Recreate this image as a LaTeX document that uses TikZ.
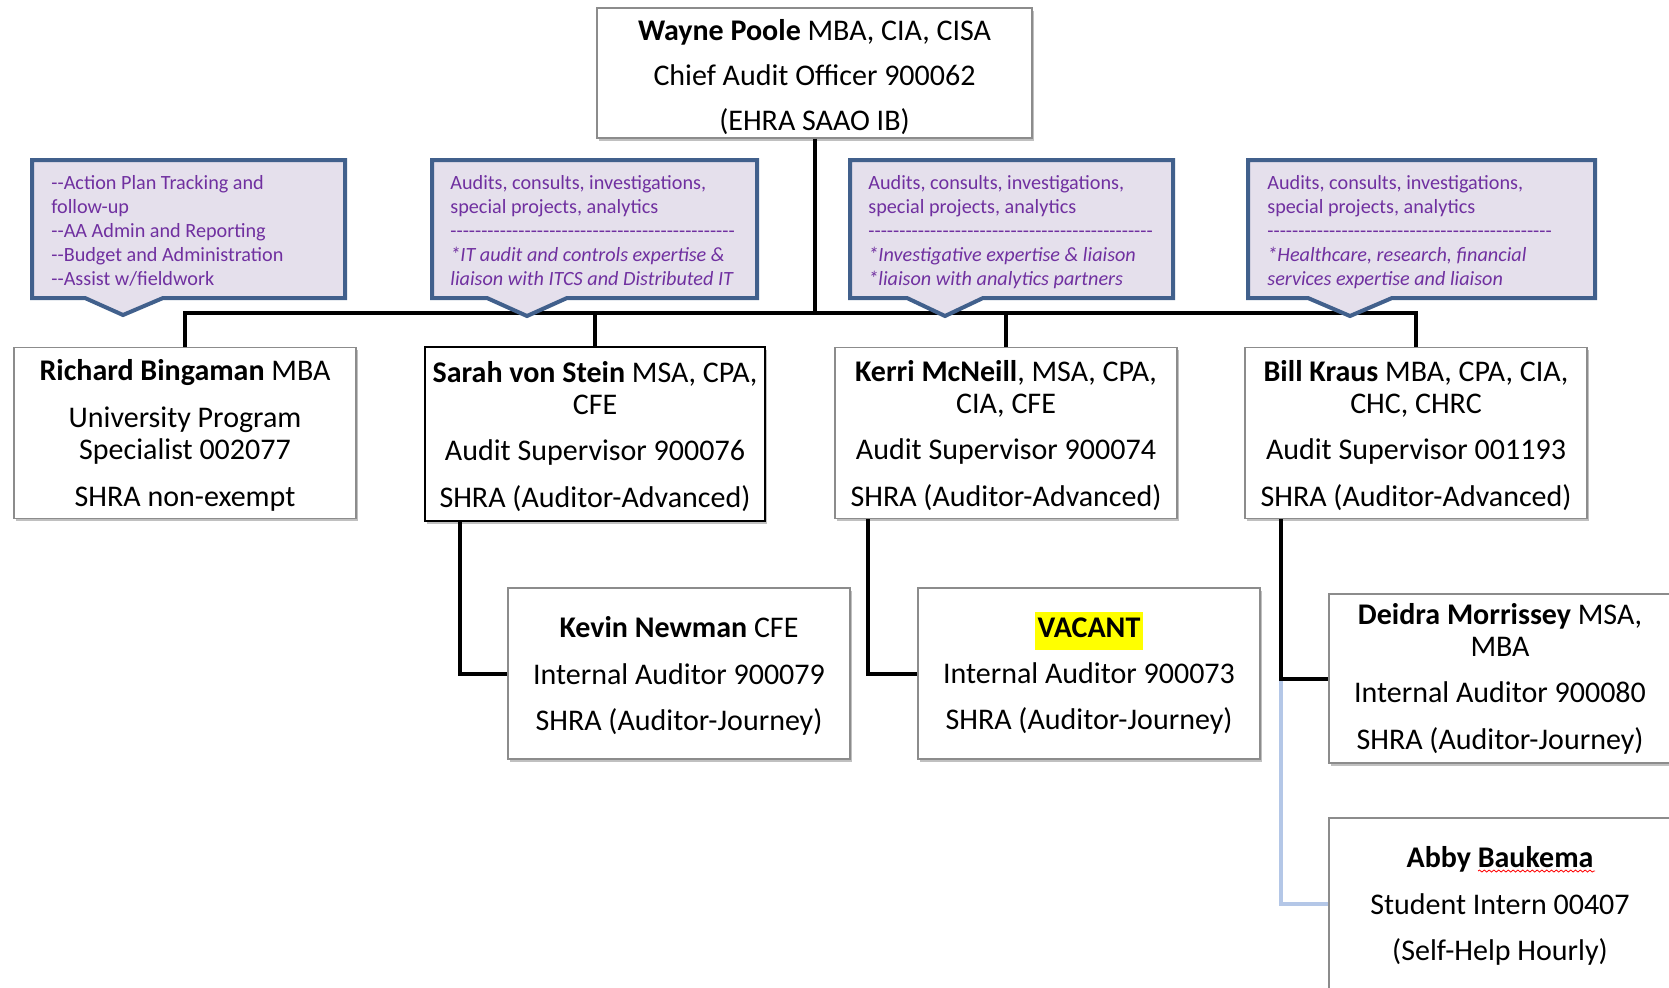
\documentclass[tikz,border=0pt]{standalone}
\usepackage{fontspec}
\setmainfont{Carlito}
\newfontfamily\callfont{Carlito}[Ligatures=TeXOff]
\usetikzlibrary{shadows,decorations.pathmorphing}
\definecolor{callborder}{HTML}{41608C}
\definecolor{callfill}{HTML}{E5E0EC}
\definecolor{calltextcol}{HTML}{7030A0}
\definecolor{boxborder}{HTML}{8C8C8C}
\definecolor{paleblue}{HTML}{B4C7E7}
\definecolor{hilite}{HTML}{FFFF00}
\tikzset{
  person/.style={draw=boxborder, line width=0.6pt, fill=white,
    minimum width=171pt, minimum height=85.5pt, align=center, inner sep=0pt,
    font=\fontsize{15}{16}\selectfont,
    drop shadow={shadow xshift=1.1pt, shadow yshift=-1.3pt, opacity=0.35, fill=black!70}},
  conn/.style={line width=2pt, black},
  paleconn/.style={line width=2pt, paleblue},
  callout/.style={draw=callborder, fill=callfill, line width=2pt, line join=miter},
  calltext/.style={anchor=north west, inner sep=0pt, align=left, text=calltextcol,
    font=\callfont\fontsize{10.1}{12}\selectfont},
  wavy/.style={red, line width=0.4pt, decorate, decoration={snake, amplitude=0.5pt, segment length=2.4pt}}
}
\newcommand{\pgap}{\\[7.3pt]}
\newcommand{\toppush}{\rule{0pt}{13pt}}
\newcommand{\dashrow}{----------------------------------------------}
\begin{document}
\begin{tikzpicture}[x=0.5pt,y=-0.5pt]
\useasboundingbox (0,0) rectangle (1669,987);
\clip (0,0) rectangle (1669,987);
\fill[white] (0,0) rectangle (1669,987);

\coordinate (barL) at (186,313);

% ---------- people ----------
\node[person, minimum width=217.5pt, minimum height=65pt] (wayne) at (814.5,73)
  {\rule{0pt}{14.5pt}\textbf{Wayne Poole} MBA, CIA, CISA\\[6.5pt]Chief Audit Officer 900062\\[6.5pt](EHRA SAAO IB)};

\node[person] (richard) at (185,433)
  {\toppush\textbf{Richard Bingaman} MBA\pgap University Program\\Specialist 002077\pgap SHRA non-exempt};
\node[person, draw=black, line width=1pt, minimum width=170pt, minimum height=87pt] (sarah) at (595,434)
  {\toppush\textbf{Sarah von Stein} MSA, CPA,\\CFE\pgap Audit Supervisor 900076\pgap SHRA (Auditor-Advanced)};
\node[person] (kerri) at (1006,433)
  {\toppush\textbf{Kerri McNeill}, MSA, CPA,\\CIA, CFE\pgap Audit Supervisor 900074\pgap SHRA (Auditor-Advanced)};
\node[person] (bill) at (1416,433)
  {\toppush\textbf{Bill Kraus} MBA, CPA, CIA,\\CHC, CHRC\pgap Audit Supervisor 001193\pgap SHRA (Auditor-Advanced)};

\node[person] (kevin) at (679,673.5)
  {\toppush\textbf{Kevin Newman} CFE\pgap Internal Auditor 900079\pgap SHRA (Auditor-Journey)};
\node[person] (vacant) at (1089,673.5)
  {{\setlength{\fboxsep}{1.5pt}\colorbox{hilite}{\strut\textbf{VACANT}}}\\[5pt]Internal Auditor 900073\pgap SHRA (Auditor-Journey)};
\node[person, minimum height=84.5pt] (deidra) at (1500,678.5)
  {\textbf{Deidra Morrissey} MSA,\\MBA\pgap Internal Auditor 900080\pgap SHRA (Auditor-Journey)};
\node[person] (abby) at (1500,903.5)
  {\toppush\textbf{Abby Baukema}\pgap Student Intern 00407\pgap (Self-Help Hourly)};
\draw[wavy] (1478,871) -- (1595,871);

% ---------- connectors ----------
\draw[conn] (wayne.south) -- (wayne.south |- barL);
\draw[conn] (richard.north) -- (richard.north |- barL) -| (bill.north);
\draw[conn] (sarah.north) -- (sarah.north |- barL);
\draw[conn] (kerri.north) -- (kerri.north |- barL);

\path (sarah.south west) ++(36,0) coordinate (sstub);
\path (kerri.south west) ++(34,0) coordinate (kstub);
\path (bill.south west) ++(37,0) coordinate (bstub);
\draw[conn] (sstub) |- (kevin.west);
\draw[conn] (kstub) |- (vacant.west);
\draw[paleconn] (deidra.west -| bstub) |- (abby.west);
\draw[conn] (bstub) |- (deidra.west);

% ---------- callouts ----------
\draw[callout] (32,160) -- (345,160) -- (345,298) -- (163,298) -- (123,315) -- (85,298) -- (32,298) -- cycle;
\node[calltext] (c1) at (51,175)
  {--Action Plan Tracking and\\follow-up\\--AA Admin and Reporting\\--Budget and Administration\\--Assist w/fieldwork};

\draw[callout] (432,160) -- (757,160) -- (757,298) -- (567,298) -- (527,316) -- (487,298) -- (432,298) -- cycle;
\node[calltext] (c2) at (450,175)
  {Audits, consults, investigations,\\special projects, analytics\\\dashrow\\\textit{*IT audit and controls expertise \&}\\\textit{liaison with ITCS and Distributed IT}};

\draw[callout] (850,160) -- (1173,160) -- (1173,298) -- (983,298) -- (945,316) -- (907,298) -- (850,298) -- cycle;
\node[calltext] (c3) at (868,175)
  {Audits, consults, investigations,\\special projects, analytics\\\dashrow\\\textit{*Investigative expertise \& liaison}\\\textit{*liaison with analytics partners}};

\draw[callout] (1248,160) -- (1595,160) -- (1595,298) -- (1392,298) -- (1350,316) -- (1308,298) -- (1248,298) -- cycle;
\node[calltext] (c4) at (1267,175)
  {Audits, consults, investigations,\\special projects, analytics\\\dashrow\\\textit{*Healthcare, research, financial}\\\textit{services expertise and liaison}};
\end{tikzpicture}
\end{document}
